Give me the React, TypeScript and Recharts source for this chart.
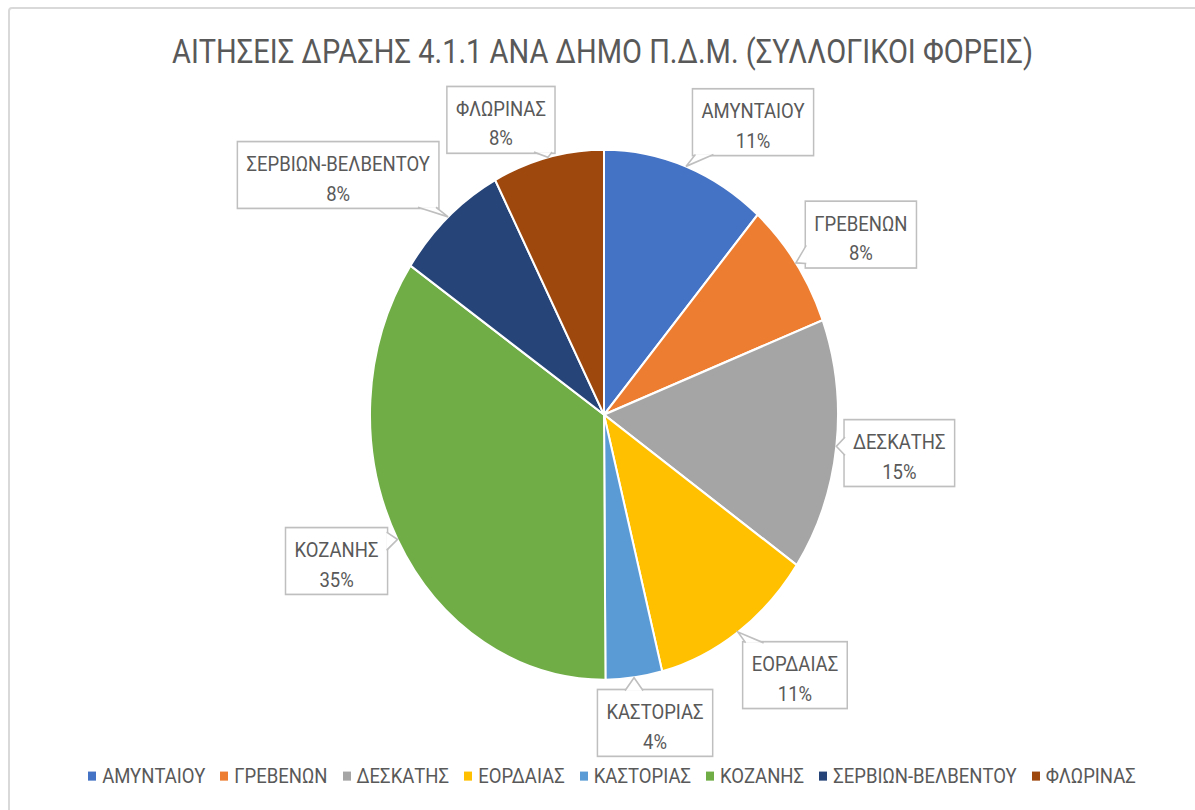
import React from 'react';
import { PieChart, Pie, Cell, Legend } from 'recharts';

// Αιτήσεις ανά δήμο (μερίδια σε %, διαβασμένα από τις γωνίες των τομέων)
const districts = [
  'ΑΜΥΝΤΑΙΟΥ',
  'ΓΡΕΒΕΝΩΝ',
  'ΔΕΣΚΑΤΗΣ',
  'ΕΟΡΔΑΙΑΣ',
  'ΚΑΣΤΟΡΙΑΣ',
  'ΚΟΖΑΝΗΣ',
  'ΣΕΡΒΙΩΝ-ΒΕΛΒΕΝΤΟΥ',
  'ΦΛΩΡΙΝΑΣ',
];
const shares = [11.4, 7.8, 15.4, 11.4, 3.9, 34.6, 7.8, 7.7];
const colors = ['#4472C4', '#ED7D31', '#A5A5A5', '#FFC000', '#5B9BD5', '#70AD47', '#264478', '#9E480E'];

// callout box centre, relative to the slice's outer edge at its mid angle
const calloutOffsets = [
  [67, -39],
  [65, -25],
  [63, 6],
  [57, 38],
  [21, 40],
  [-61, 19],
  [-110, -37],
  [-47, -33],
];

const TITLE = 'ΑΙΤΗΣΕΙΣ ΔΡΑΣΗΣ 4.1.1 ΑΝΑ ΔΗΜΟ Π.Δ.Μ. (ΣΥΛΛΟΓΙΚΟΙ ΦΟΡΕΙΣ)';
const FONT = 'Roboto, "Noto Sans", sans-serif';
const TEXT = '#595959';
const BORDER = '#BFBFBF';

// the original picture was stretched vertically
const STRETCH = 1.133;
const W = 1195;
const H = Math.round(810 / STRETCH);

const data = districts.map((name, i) => ({ name, value: shares[i] }));

let ctx: CanvasRenderingContext2D | null = null;
function textWidth(s: string, size: number) {
  if (!ctx) ctx = document.createElement('canvas').getContext('2d');
  if (!ctx) return s.length * size * 0.6;
  ctx.font = `${size}px Roboto`;
  return ctx.measureText(s).width;
}

const clamp = (v: number, a: number, b: number) => Math.max(a, Math.min(b, v));

function Callout(props: any) {
  const { cx, cy, midAngle, outerRadius, index, name, percent } = props;
  const rad = (-midAngle * Math.PI) / 180;
  const ax = cx + outerRadius * Math.cos(rad);
  const ay = cy + outerRadius * Math.sin(rad);
  const [dx, dy] = calloutOffsets[index];
  const pct = `${Math.round(percent * 100)}%`;
  const fs = 18.5;
  const bw = Math.max(textWidth(name, fs), textWidth(pct, fs)) + 18;
  const bh = 59;
  const bx = ax + dx - bw / 2;
  const by = ay + dy - bh / 2;

  let b1: number[];
  let b2: number[];
  if (ay > by + bh || ay < by) {
    const ey = ay > by + bh ? by + bh - 1 : by + 1;
    const c = clamp(ax, bx + 12, bx + bw - 12);
    b1 = [c - 9, ey];
    b2 = [c + 9, ey];
  } else {
    const ex = ax < bx ? bx + 1 : bx + bw - 1;
    const c = clamp(ay, by + 12, by + bh - 12);
    b1 = [ex, c - 8];
    b2 = [ex, c + 8];
  }
  const pts = `${b1[0]},${b1[1]} ${ax},${ay} ${b2[0]},${b2[1]}`;

  return (
    <g>
      <rect x={bx} y={by} width={bw} height={bh} fill="#fff" stroke={BORDER} strokeWidth={1.5} />
      <polygon points={pts} fill="#fff" stroke="none" />
      <polyline points={pts} fill="none" stroke={BORDER} strokeWidth={1.5} />
      <text x={bx + bw / 2} y={by + 20} textAnchor="middle" dominantBaseline="central" fill={TEXT} fontSize={fs} fontFamily={FONT}>
        {name}
      </text>
      <text x={bx + bw / 2} y={by + 46} textAnchor="middle" dominantBaseline="central" fill={TEXT} fontSize={fs} fontFamily={FONT}>
        {pct}
      </text>
    </g>
  );
}

function LegendRow({ payload }: any) {
  return (
    <div
      style={{
        display: 'flex',
        justifyContent: 'center',
        alignItems: 'center',
        gap: 15,
        paddingLeft: 29,
        fontFamily: FONT,
        fontSize: 18.5,
        color: TEXT,
      }}
    >
      {(payload || []).map((p: any) => (
        <div key={p.value} style={{ display: 'flex', alignItems: 'center' }}>
          <span style={{ display: 'inline-block', width: 8, height: 8, background: p.color, marginRight: 6 }} />
          <span>{p.value}</span>
        </div>
      ))}
    </div>
  );
}

export default function App() {
  return (
    <div style={{ position: 'absolute', left: 0, top: 0, width: W, height: 810, overflow: 'hidden', background: '#fff' }}>
      <div
        style={{
          position: 'absolute',
          left: 8,
          top: 7,
          width: 1300,
          height: 900,
          border: '2px solid #D9D9D9',
          borderRadius: 4,
        }}
      />
      <div
        style={{
          position: 'absolute',
          left: 0,
          top: 0,
          width: W,
          height: H,
          transform: `scaleY(${STRETCH})`,
          transformOrigin: '0 0',
          fontFamily: FONT,
        }}
      >
        <div
          style={{
            position: 'absolute',
            left: 5,
            top: 26,
            width: W,
            textAlign: 'center',
            fontSize: 29,
            color: TEXT,
            lineHeight: '40px',
          }}
        >
          {TITLE}
        </div>
        <PieChart width={W} height={H} margin={{ top: 0, right: 0, bottom: 0, left: 0 }}>
          <Pie
            data={data}
            dataKey="value"
            nameKey="name"
            cx={604}
            cy={366}
            outerRadius={234}
            startAngle={90}
            endAngle={-270}
            stroke="#fff"
            strokeWidth={2}
            labelLine={false}
            label={Callout}
            isAnimationActive={false}
          >
            {data.map((d, i) => (
              <Cell key={d.name} fill={colors[i]} />
            ))}
          </Pie>
          <Legend verticalAlign="bottom" align="center" wrapperStyle={{ bottom: 19 }} content={<LegendRow />} />
        </PieChart>
      </div>
    </div>
  );
}
